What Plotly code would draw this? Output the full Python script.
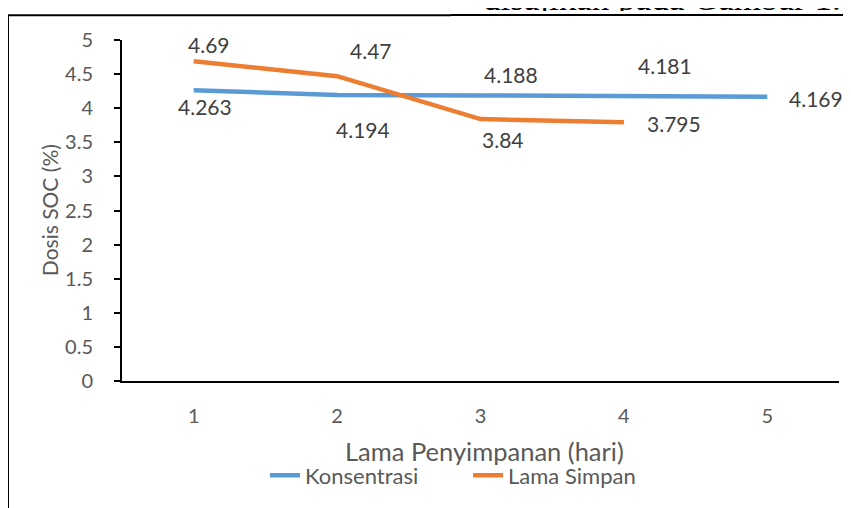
import plotly.graph_objects as go

days = [1, 2, 3, 4, 5]
konsentrasi = [4.263, 4.194, 4.188, 4.181, 4.169]
lama_simpan = [4.69, 4.47, 3.84, 3.795]
y_ticks = [0, 0.5, 1, 1.5, 2, 2.5, 3, 3.5, 4, 4.5, 5]

# label offsets (pixels: dx, dy downward)
k_off = [(11, 16), (26, 35), (30, -21), (41, -30), (49, 2)]
l_off = [(15, -17), (34, -26), (22, 20), (50, 1)]

BLUE = "#5B9BD5"
ORANGE = "#ED7D31"
FONT = "Lato"

fig = go.Figure()
fig.add_trace(go.Scatter(x=days, y=konsentrasi, mode="lines", name="Konsentrasi",
                         line=dict(color=BLUE, width=4.5)))
fig.add_trace(go.Scatter(x=days[:len(lama_simpan)], y=lama_simpan, mode="lines", name="Lama Simpan",
                         line=dict(color=ORANGE, width=4.5)))

annotations = []
for xs, ys, offs in [(days, konsentrasi, k_off), (days, lama_simpan, l_off)]:
    for x, y, (dx, dy) in zip(xs, ys, offs):
        annotations.append(dict(x=x, y=y, xref="x", yref="y", text=str(y), showarrow=False,
                                xshift=dx, yshift=-dy, font=dict(family=FONT, size=21, color="#404040")))

annotations.append(dict(x=0.506, y=-0.206, xref="paper", yref="paper", text="Lama Penyimpanan (hari)",
                        showarrow=False, xanchor="center", yanchor="middle",
                        font=dict(family=FONT, size=25.5, color="#595959")))
annotations.append(dict(x=-0.1018, y=0.501, xref="paper", yref="paper", text="Dosis SOC (%)",
                        showarrow=False, textangle=-90, xanchor="center", yanchor="middle",
                        font=dict(family=FONT, size=21, color="#595959")))
# page heading text partly hidden behind the chart frame
annotations.append(dict(x=1.006, y=1.0574, xref="paper", yref="paper", text="disajikan pada Gambar 1.",
                        showarrow=False, xanchor="right", yanchor="bottom",
                        font=dict(family="Liberation Serif", size=35, color="#000000")))
# white strip of the chart frame hiding the heading's descenders, then the frame edge on top
annotations.append(dict(x=1.0167, y=1.0736, xref="paper", yref="paper", text=" ",
                        showarrow=False, xanchor="right", yanchor="middle", width=400, height=8,
                        bgcolor="white", borderpad=0, borderwidth=0, font=dict(size=1)))
annotations.append(dict(x=1.0167, y=1.0729, xref="paper", yref="paper", text=" ",
                        showarrow=False, xanchor="right", yanchor="middle", width=400, height=2,
                        bgcolor="black", borderpad=0, borderwidth=0, font=dict(size=1)))

fig.update_layout(
    width=843, height=500,
    margin=dict(l=114, r=12, t=32, b=125),
    paper_bgcolor="white", plot_bgcolor="white",
    annotations=annotations,
    showlegend=True,
    legend=dict(orientation="h", x=0.1995, y=-0.277, xanchor="left", yanchor="middle",
                font=dict(family=FONT, size=22, color="#595959"),
                entrywidth=158, entrywidthmode="pixels"),
    shapes=[
        dict(type="line", xref="paper", yref="paper", x0=-0.159, x1=-0.159, y0=-0.45, y1=1.0729,
             line=dict(color="black", width=2)),
        dict(type="line", xref="paper", yref="paper", x0=-0.162, x1=1.1, y0=1.0729, y1=1.0729,
             line=dict(color="black", width=2)),
    ],
)
fig.update_xaxes(range=[0.5, 5.5], tickvals=days, ticktext=[str(d) for d in days],
                 showline=True, linecolor="black", linewidth=2, ticks="", showgrid=False,
                 zeroline=False, tickfont=dict(family=FONT, size=20, color="#595959"),
                 ticklabelstandoff=16)
fig.update_yaxes(range=[0, 5], tickvals=y_ticks, ticktext=[f"{v:g}" for v in y_ticks],
                 showline=True, linecolor="black", linewidth=2, ticks="outside", ticklen=6,
                 tickwidth=2, tickcolor="black", showgrid=False, zeroline=False,
                 tickfont=dict(family=FONT, size=20, color="#595959"), ticklabelstandoff=17)

fig.write_html("out.html")
